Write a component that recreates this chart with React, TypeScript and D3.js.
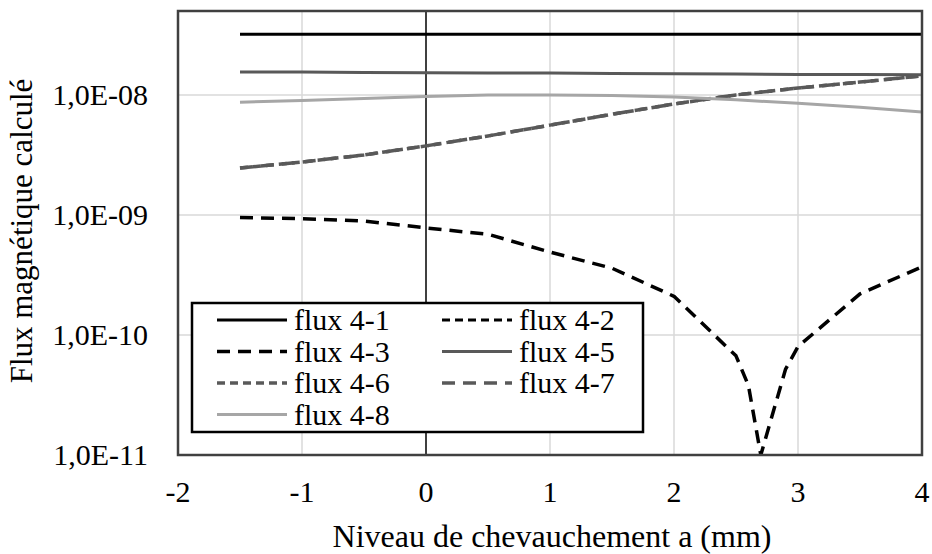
import React from "react";
import * as d3 from "d3";

const xValues = [-1.5, -1, -0.5, 0, 0.5, 1, 1.5, 2, 2.5, 3, 3.5, 4];
const flux41 = [3.2e-8, 3.2e-8, 3.2e-8, 3.2e-8, 3.2e-8, 3.2e-8, 3.2e-8, 3.2e-8, 3.2e-8, 3.2e-8, 3.2e-8, 3.2e-8];
const flux42: number[] = [];
const flux43X = [-1.5, -1, -0.5, 0, 0.5, 1, 1.5, 2, 2.5, 2.6, 2.7, 2.9, 3, 3.5, 4];
const flux43 = [9.5e-10, 9.3e-10, 8.9e-10, 7.8e-10, 6.9e-10, 4.9e-10, 3.6e-10, 2.1e-10, 6.7e-11, 3.8e-11, 1.0e-11, 5.2e-11, 8.0e-11, 2.2e-10, 3.7e-10];
const flux45 = [1.55e-8, 1.55e-8, 1.54e-8, 1.53e-8, 1.52e-8, 1.52e-8, 1.51e-8, 1.5e-8, 1.49e-8, 1.48e-8, 1.48e-8, 1.47e-8];
const flux46 = [2.46e-9, 2.76e-9, 3.16e-9, 3.76e-9, 4.55e-9, 5.6e-9, 6.9e-9, 8.4e-9, 1.0e-8, 1.14e-8, 1.28e-8, 1.44e-8];
const flux47 = [2.46e-9, 2.76e-9, 3.16e-9, 3.76e-9, 4.55e-9, 5.6e-9, 6.9e-9, 8.4e-9, 1.0e-8, 1.14e-8, 1.28e-8, 1.44e-8];
const flux48 = [8.7e-9, 9.0e-9, 9.35e-9, 9.7e-9, 1.0e-8, 1.0e-8, 9.9e-9, 9.6e-9, 9.1e-9, 8.5e-9, 7.9e-9, 7.2e-9];

const xTicks = [-2, -1, 0, 1, 2, 3, 4];
const yTicks = [1e-11, 1e-10, 1e-9, 1e-8];
const xTitle = "Niveau de chevauchement a (mm)";
const yTitle = "Flux magnétique calculé";

const FONT = "Liberation Serif";

type Series = { name: string; xs: number[]; ys: number[]; color: string; dash: string; width: number };

const series: Series[] = [
  { name: "flux 4-1", xs: xValues, ys: flux41, color: "#000000", dash: "none", width: 3 },
  { name: "flux 4-2", xs: xValues, ys: flux42, color: "#000000", dash: "8,5", width: 3 },
  { name: "flux 4-3", xs: flux43X, ys: flux43, color: "#000000", dash: "13,8", width: 3.5 },
  { name: "flux 4-5", xs: xValues, ys: flux45, color: "#595959", dash: "none", width: 3 },
  { name: "flux 4-6", xs: xValues, ys: flux46, color: "#595959", dash: "8,5", width: 3.5 },
  { name: "flux 4-7", xs: xValues, ys: flux47, color: "#595959", dash: "13,8", width: 3.5 },
  { name: "flux 4-8", xs: xValues, ys: flux48, color: "#a6a6a6", dash: "none", width: 3 },
];

export default function App() {
  const W = 932, H = 554;
  const L = 178, R = 922, T = 11, B = 455;
  const x = d3.scaleLinear().domain([-2, 4]).range([L, R]);
  const y = d3.scaleLog().domain([1e-11, 5e-8]).range([B, T]);
  const line = d3.line<[number, number]>().x(d => x(d[0])).y(d => y(d[1]));
  const fmt = (v: number) => {
    const e = Math.round(Math.log10(v));
    return `1,0E-${String(-e).padStart(2, "0")}`;
  };

  const legX = 192, legY = 303, legW = 451, legH = 129;
  const rowH = 31.5;
  const colX = [217, 442];

  return (
    <svg width={W} height={H} style={{ position: "absolute", left: 0, top: 0, background: "#fff", fontFamily: FONT }}>
      <defs>
        <clipPath id="plot">
          <rect x={L} y={T} width={R - L} height={B - T} />
        </clipPath>
      </defs>
      <rect x={0} y={0} width={W} height={H} fill="#fff" />
      {xTicks.filter(t => t !== -2 && t !== 4 && t !== 0).map(t => (
        <line key={"gx" + t} x1={x(t)} x2={x(t)} y1={T} y2={B} stroke="#d9d9d9" strokeWidth={1.5} />
      ))}
      {yTicks.filter(t => t !== 1e-11).map(t => (
        <line key={"gy" + t} x1={L} x2={R} y1={y(t)} y2={y(t)} stroke="#d9d9d9" strokeWidth={1.5} />
      ))}
      <line x1={x(0)} x2={x(0)} y1={T} y2={B} stroke="#000" strokeWidth={1.5} />
      <g clipPath="url(#plot)">
        {series.filter(s => s.ys.length > 0).map(s => (
          <path key={s.name}
            d={line(s.xs.map((v, i) => [v, s.ys[i]] as [number, number])) || ""}
            fill="none" stroke={s.color} strokeWidth={s.width}
            strokeDasharray={s.dash === "none" ? undefined : s.dash}
            strokeLinejoin="round" />
        ))}
      </g>
      <rect x={L} y={T} width={R - L} height={B - T} fill="none" stroke="#404040" strokeWidth={2.5} />
      {xTicks.map(t => (
        <text key={"xt" + t} x={x(t)} y={502} textAnchor="middle" fontFamily={FONT} fontSize={30} fill="#000">{t}</text>
      ))}
      {yTicks.map(t => (
        <text key={"yt" + t} x={148} y={y(t) + 10} textAnchor="end" fontFamily={FONT} fontSize={30} fill="#000">{fmt(t)}</text>
      ))}
      <text x={552} y={547} textAnchor="middle" fontFamily={FONT} fontSize={32} fill="#000">{xTitle}</text>
      <text transform={`translate(32,231) rotate(-90)`} textAnchor="middle" fontFamily={FONT} fontSize={31} fill="#000">{yTitle}</text>
      <rect x={legX} y={legY} width={legW} height={legH} fill="#fff" stroke="#000" strokeWidth={2.5} />
      {series.map((s, i) => {
        const col = i % 2;
        const row = Math.floor(i / 2);
        const cy = legY + 17 + row * rowH;
        const lx = colX[col];
        return (
          <g key={"leg" + s.name}>
            <line x1={lx} x2={lx + 70} y1={cy} y2={cy} stroke={s.color} strokeWidth={s.width}
              strokeDasharray={s.dash === "none" ? undefined : s.dash} />
            <text x={lx + 77} y={cy + 10} fontFamily={FONT} fontSize={30} fill="#000">{s.name}</text>
          </g>
        );
      })}
    </svg>
  );
}
